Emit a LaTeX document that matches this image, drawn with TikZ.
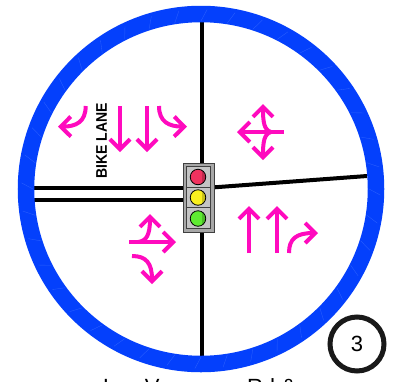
\documentclass[tikz,border=0pt]{standalone}
\usepackage{fontspec}
\setmainfont{Liberation Sans}
\usetikzlibrary{arrows.meta}
\definecolor{ringblue}{RGB}{4,64,252}
\definecolor{ringlight}{RGB}{60,110,255}
\definecolor{arrowpink}{RGB}{255,10,190}
\definecolor{boxgray}{RGB}{196,196,196}
\tikzset{
  road/.style={draw=black,line width=4pt},
  turn/.style={draw=arrowpink,line width=4pt,-{Straight Barb[length=10pt,width=20pt,line width=4pt]}},
  lamp/.style={circle,draw=black,line width=0.8pt,minimum size=15.5pt,inner sep=0pt},
  housing/.style={draw=black!75,fill=boxgray,line width=0.8pt,minimum width=23.5pt,inner sep=0pt},
}
\begin{document}
\begin{tikzpicture}[x=1pt,y=-1pt]
\useasboundingbox (0,0) rectangle (393,381);
\fill[white] (0,0) rectangle (393,381);
% roads
\coordinate (rt) at (202,22);
\coordinate (rb) at (202,356);
\coordinate (l1a) at (34,188);
\coordinate (l2a) at (34,200);
\coordinate (ra) at (367,176);
\draw[road] (rt) -- (rb);
\draw[road] (l1a) -- (190,188);
\draw[road] (l2a) -- (190,200);
\draw[road] (ra) -- (205,188);
% ring
\node[circle,draw=ringblue,line width=16.5pt,minimum size=350pt,inner sep=0pt] (ring) at (201,189) {};
\foreach \a in {0,9,...,351}{
  \draw[ringlight,line width=0.35pt,opacity=0.7] (201,189) ++({\a}:168) -- ++({\a+28}:13);
}
% signal
\node[draw=black!75,fill=boxgray!85!black,line width=0.9pt,minimum width=31pt,minimum height=69pt,inner sep=0pt] (sig) at (198.5,197.5) {};
\node[housing,minimum height=21pt] (h1) at (198.5,177) {};
\node[housing,minimum height=21pt] (h2) at (198.5,197.5) {};
\node[housing,minimum height=21pt] (h3) at (198.5,218) {};
\node[lamp,fill={rgb,255:red,240;green,50;blue,95}] (red) at (198,177) {};
\node[lamp,fill={rgb,255:red,250;green,240;blue,30}] (yel) at (198,197.5) {};
\node[lamp,fill={rgb,255:red,95;green,235;blue,50}] (grn) at (198,218.5) {};
\begin{scope}
  \clip (202,165) rectangle (210,230);
  \fill[black,opacity=0.2] (198,177) circle (7.3);
  \fill[black,opacity=0.2] (198,197.5) circle (7.3);
  \fill[black,opacity=0.2] (198,218.5) circle (7.3);
\end{scope}
% upper left arrows
\draw[turn] (85.7,106) .. controls (85.7,122) and (76,126.5) .. (58,126.7);
\draw[turn] (120,106) -- (120,152);
\draw[turn] (147,106) -- (147,152);
\draw[turn] (159,106) .. controls (159,122) and (169,126.5) .. (187,126.7);
\node[rotate=90,inner sep=0pt,yscale=1.1,font=\fontsize{14}{14}\bfseries\selectfont] (bike) at (101.5,141) {BIKE LANE};
% upper right arrows
\draw[turn] (283.5,132) -- (237,132);
\draw[turn] (271,132) .. controls (264,130) and (263,122) .. (263,104);
\draw[turn] (271,132) .. controls (264,134) and (263,142) .. (263,160);
% lower right arrows
\draw[turn] (249,253) -- (249,206);
\draw[turn] (277,253) -- (277,206);
\draw[turn] (289,253) .. controls (289,239) and (296,233) .. (318,233);
% lower left arrows
\draw[turn] (129,242) -- (176,242);
\draw[turn] (138,242) .. controls (146,241) and (150,236) .. (150,214);
\draw[turn] (132,256) .. controls (146,256) and (152,263) .. (152,284);
% number badge
\node[circle,draw=black!90,line width=5pt,minimum size=54pt,inner sep=0pt,font=\fontsize{22}{22}\selectfont] (badge) at (357,344) {3};
% caption
\node[anchor=base west,inner sep=0pt,font=\fontsize{22}{22}\selectfont] (cap) at (103,394) {Las Vegas\hspace{35pt} Rd \&};
\end{tikzpicture}
\end{document}
